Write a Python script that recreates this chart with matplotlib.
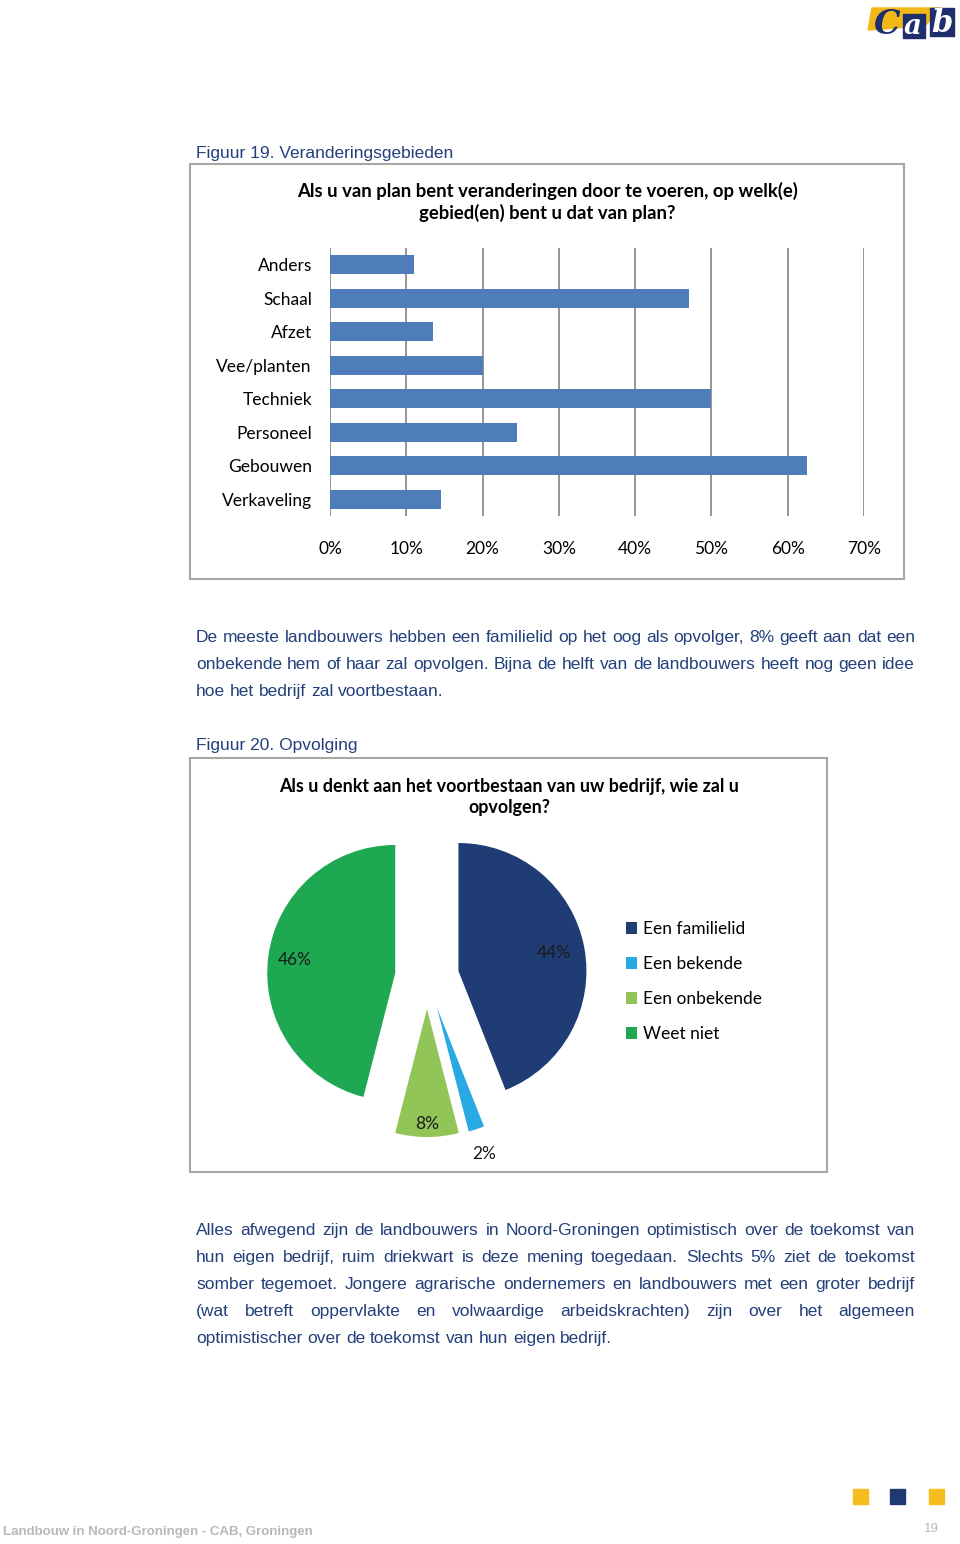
import matplotlib
matplotlib.use("Agg")
import matplotlib.pyplot as plt
import matplotlib.patches as mpatches
import numpy as np

# ---------------- data ----------------
bar_categories = ['Anders', 'Schaal', 'Afzet', 'Vee/planten', 'Techniek',
                  'Personeel', 'Gebouwen', 'Verkaveling']
bar_values = [11, 47, 13.5, 20, 50, 24.5, 62.5, 14.5]
bar_ticks = [0, 10, 20, 30, 40, 50, 60, 70]
bar_ticklabels = ['0%', '10%', '20%', '30%', '40%', '50%', '60%', '70%']

pie_labels = ['Een familielid', 'Een bekende', 'Een onbekende', 'Weet niet']
pie_values = [44, 2, 8, 46]
pie_colors = ['#203C74', '#29A9E1', '#92C557', '#1DA851']

bar_title = "Als u van plan bent veranderingen door te voeren, op welk(e)\ngebied(en) bent u dat van plan?"
pie_title = "Als u denkt aan het voortbestaan van uw bedrijf, wie zal u\nopvolgen?"
caption1 = "Figuur 19. Veranderingsgebieden"
caption2 = "Figuur 20. Opvolging"
para1 = ["De meeste landbouwers hebben een familielid op het oog als opvolger, 8% geeft aan dat een",
         "onbekende hem of haar zal opvolgen. Bijna de helft van de landbouwers heeft nog geen idee",
         "hoe het bedrijf zal voortbestaan."]
para2 = ["Alles afwegend zijn de landbouwers in Noord-Groningen optimistisch over de toekomst van",
         "hun eigen bedrijf, ruim driekwart is deze mening toegedaan. Slechts 5% ziet de toekomst",
         "somber tegemoet. Jongere agrarische ondernemers en landbouwers met een groter bedrijf",
         "(wat betreft oppervlakte en volwaardige arbeidskrachten) zijn over het algemeen",
         "optimistischer over de toekomst van hun eigen bedrijf."]
footer_left = "Landbouw in Noord-Groningen - CAB, Groningen"
footer_right = "19"

# ---------------- layout helpers ----------------
W, H = 960, 1544
fig = plt.figure(figsize=(W / 100, H / 100), dpi=100)
fig.patch.set_facecolor('white')

def fx(x):
    return x / W

def fy(y):
    return 1 - y / H

def add_ax(x0, y0, x1, y1, **kw):
    return fig.add_axes([fx(x0), fy(y1), (x1 - x0) / W, (y1 - y0) / H], **kw)

CHART_FONT = ['Lato', 'DejaVu Sans']
BODY_FONT = ['Liberation Sans', 'DejaVu Sans']
TEXT_BLUE = '#23407A'

# frames
for (x0, y0, x1, y1) in [(190, 164, 904, 579), (190, 758, 827, 1172)]:
    fig.patches.append(mpatches.Rectangle((fx(x0), fy(y1)), (x1 - x0) / W, (y1 - y0) / H,
                                          transform=fig.transFigure, fill=False,
                                          edgecolor='#A6A6A6', linewidth=1.5))

# captions
fig.text(fx(196), fy(158), caption1, fontsize=12.5, color=TEXT_BLUE, family=BODY_FONT, va='baseline')
fig.text(fx(196), fy(750), caption2, fontsize=12.5, color=TEXT_BLUE, family=BODY_FONT, va='baseline')

# ---------------- bar chart ----------------
axb = add_ax(330, 248, 864, 516)
y = np.arange(len(bar_categories))
axb.barh(y, bar_values, height=0.56, color='#4F7DB9', zorder=3)
axb.set_ylim(len(bar_categories) - 0.5, -0.5)
axb.set_xlim(0, 70)
axb.set_xticks(bar_ticks)
axb.set_xticklabels(bar_ticklabels, family=CHART_FONT, fontsize=12.5)
axb.set_yticks(y)
axb.set_yticklabels(bar_categories, family=CHART_FONT, fontsize=12.5)
axb.tick_params(axis='x', length=0, pad=18)
axb.tick_params(axis='y', length=0, pad=13)
axb.grid(axis='x', color='#8C8C8C', linewidth=1.3, zorder=0)
for s in axb.spines.values():
    s.set_visible(False)
fig.text(fx(547), fy(202), bar_title, ha='center', va='center', fontsize=13.3,
         fontweight='bold', family=CHART_FONT, linespacing=1.3)

# ---------------- pie chart ----------------
axp = add_ax(230, 830, 630, 1170)
R = 128
wedges, texts, autotexts = axp.pie(pie_values, colors=pie_colors, startangle=90,
                                   counterclock=False, radius=R, explode=[32] * 4,
                                   autopct='%d%%', pctdistance=0.77,
                                   wedgeprops=dict(linewidth=0),
                                   textprops=dict(family=CHART_FONT, fontsize=12.5, color='#1A1A1A'))
label_dist = [0.76, 1.2, 0.9, 0.79]
for w, t, d in zip(wedges, autotexts, label_dist):
    th = np.deg2rad((w.theta1 + w.theta2) / 2)
    cx, cy = w.center
    t.set_position((cx + R * d * np.cos(th), cy + R * d * np.sin(th)))
    t.set_ha('center'); t.set_va('center')
axp.set_xlim(-197, 203)
axp.set_ylim(-193, 147)
axp.set_aspect('auto')
axp.axis('off')
fig.text(fx(509), fy(797), pie_title, ha='center', va='center', fontsize=12.9,
         fontweight='bold', family=CHART_FONT, linespacing=1.3)
fig.legend(wedges, pie_labels, loc='upper left', bbox_to_anchor=(fx(626), fy(921)),
           frameon=False, prop=dict(family=CHART_FONT, size=12.5),
           handlelength=0.65, handleheight=0.65, handletextpad=0.35,
           labelspacing=1.1, borderpad=0, borderaxespad=0)

# ---------------- justified body text ----------------
renderer = fig.canvas.get_renderer()

def justified(lines, x0, x1, y0, dy, size):
    probe_a = fig.text(0, 0, 'a a', fontsize=size, family=BODY_FONT)
    probe_b = fig.text(0, 0, 'aa', fontsize=size, family=BODY_FONT)
    space = probe_a.get_window_extent(renderer).width - probe_b.get_window_extent(renderer).width
    probe_a.remove(); probe_b.remove()
    for i, line in enumerate(lines):
        yy = y0 + i * dy
        words = line.split()
        objs = [fig.text(0, fy(yy), wd, fontsize=size, family=BODY_FONT,
                         color=TEXT_BLUE, va='baseline') for wd in words]
        widths = [o.get_window_extent(renderer).width for o in objs]
        if i == len(lines) - 1 or len(words) < 2:
            gap = space
        else:
            gap = (x1 - x0 - sum(widths)) / (len(words) - 1)
        xx = x0
        for o, wd in zip(objs, widths):
            o.set_x(fx(xx))
            xx += wd + gap

justified(para1, 196, 915, 642, 27, 12.5)
justified(para2, 196, 915, 1235, 27, 12.5)

# ---------------- footer ----------------
fig.text(fx(3), fy(1532), footer_left, fontsize=9.5, color='#B8B8B8', family=BODY_FONT,
         va='center', fontweight='bold')
fig.text(fx(939), fy(1529), footer_right, fontsize=9.5, color='#B8B8B8', family=BODY_FONT,
         va='center', ha='right')
for x0, c in [(853, '#F5BE1E'), (890, '#1F3A70'), (929, '#F5BE1E')]:
    fig.patches.append(mpatches.Rectangle((fx(x0), fy(1504)), 15 / W, 15 / H,
                                          transform=fig.transFigure, color=c))

# ---------------- logo ----------------
fig.patches.append(mpatches.Polygon([(fx(872), fy(8)), (fx(940), fy(8)), (fx(925), fy(26)), (fx(868), fy(30))],
                                    closed=True, transform=fig.transFigure, color='#F2B817'))
fig.patches.append(mpatches.Rectangle((fx(903), fy(38)), 22 / W, 24 / H, transform=fig.transFigure, color='#1F2F6E'))
fig.patches.append(mpatches.Rectangle((fx(930), fy(36)), 24 / W, 28 / H, transform=fig.transFigure, color='#1F2F6E'))
fig.text(fx(874), fy(24), 'C', fontsize=24, fontstyle='italic', fontweight='bold', family='DejaVu Serif',
         color='#1F2F6E', va='center')
fig.text(fx(904), fy(27), 'a', fontsize=20, fontstyle='italic', fontweight='bold', family='DejaVu Serif',
         color='white', va='center')
fig.text(fx(931), fy(24), 'b', fontsize=22, fontstyle='italic', fontweight='bold', family='DejaVu Serif',
         color='white', va='center')

fig.savefig('out.png', dpi=100)
